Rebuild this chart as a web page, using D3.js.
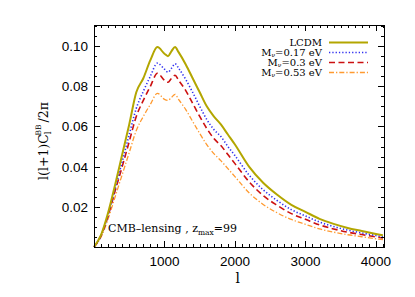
<!DOCTYPE html>
<html>
<head>
<meta charset="utf-8">
<script src="https://cdn.jsdelivr.net/npm/d3@7"></script>
<style>
  body { margin: 0; background: #fff; }
  svg { display: block; }
</style>
</head>
<body>
<svg id="chart"></svg>
<script>
// multipoles l
const ells = [0, 100, 200, 300, 400, 500, 600, 700, 800, 900, 1000, 1050, 1100, 1150, 1200,
  1300, 1400, 1500, 1600, 1700, 1800, 1900, 2000, 2200, 2400, 2600, 2800, 3000, 3200,
  3400, 3600, 3800, 4000, 4100];

const lcdm = [0, .006, .017, .031, .046, .061, .077, .084, .093, .0995, .0962, .095, .0975, .0995, .097,
  .091, .084, .077, .070, .065, .061, .056, .051, .040, .032, .026, .021, .0175, .014,
  .0115, .0095, .008, .0065, .0058];
const mnu017 = [0, .0057, .016, .029, .0425, .056, .069, .0775, .085, .0915, .0885, .087, .089, .0912, .089,
  .0835, .077, .070, .0635, .0585, .055, .050, .0455, .0358, .0285, .0231, .0186, .0155, .0124,
  .0102, .0084, .007, .0057, .0051];
const mnu03 = [0, .0055, .0155, .028, .040, .0525, .065, .073, .080, .0865, .083, .082, .084, .0855, .083,
  .078, .0715, .065, .059, .054, .0505, .046, .0415, .0325, .0256, .0207, .0166, .0138, .011,
  .009, .0074, .0062, .005, .0045];
const mnu053 = [0, .005, .014, .025, .036, .047, .058, .065, .071, .0765, .0735, .073, .0745, .076, .0735,
  .0685, .0625, .0565, .051, .0465, .043, .039, .035, .027, .0212, .017, .0137, .0113, .009,
  .0074, .0061, .0051, .0041, .0037];

const xTicks = [1000, 2000, 3000, 4000];
const yTicks = [0.02, 0.04, 0.06, 0.08, 0.10];

const series = [
  { name: "LCDM", mass: null, values: lcdm, color: "#b3a600", dash: null, width: 2 },
  { name: "M", mass: "0.17", values: mnu017, color: "#3030f0", dash: "1.3,2", width: 1.6 },
  { name: "M", mass: "0.3", values: mnu03, color: "#cc1010", dash: "6,3.5", width: 1.6 },
  { name: "M", mass: "0.53", values: mnu053, color: "#ff9a30", dash: "5,2,1.3,2", width: 1.3 }
];

const W = 415, H = 297;
const margin = { top: 25, right: 31, bottom: 50, left: 94 };
const width = W - margin.left - margin.right,
  height = H - margin.top - margin.bottom;

const svg = d3.select("#chart").attr("width", W).attr("height", H);
const g = svg.append("g").attr("transform", "translate(" + margin.left + "," + margin.top + ")");

const x = d3.scaleLinear().domain([0, 4115]).range([0, width]);
const y = d3.scaleLinear().domain([0, 0.1105]).range([height, 0]);

const serif = "'DejaVu Serif', 'Liberation Serif', serif";
const sans = "'Liberation Sans', Arial, sans-serif";

// curves
const line = d3.line()
  .x((d, i) => x(ells[i]))
  .y(d => y(d))
  .curve(d3.curveMonotoneX);

g.append("g")
  .selectAll("path")
  .data(series.slice().reverse())
  .join("path")
  .attr("d", d => line(d.values))
  .attr("fill", "none")
  .attr("stroke", d => d.color)
  .attr("stroke-width", d => d.width)
  .attr("stroke-dasharray", d => d.dash);

// IDL-style axes: ticks on all four sides, pointing inwards
const xMinor = d3.range(100, 4115, 100);
const yMinor = d3.range(0.005, 0.1105, 0.005);

function tickSet(vals, major) {
  return vals.map(v => ({ v: v, major: major.some(m => Math.abs(m - v) < 1e-6) }));
}
const xt = tickSet(xMinor, xTicks);
const yt = tickSet(yMinor, yTicks);

const ticks = g.append("g").attr("stroke", "#000").attr("stroke-width", 1);
xt.forEach(t => {
  const px = Math.round(x(t.v)) + 0.5, len = t.major ? 6 : 3;
  ticks.append("line").attr("x1", px).attr("x2", px).attr("y1", height).attr("y2", height - len);
  ticks.append("line").attr("x1", px).attr("x2", px).attr("y1", 0).attr("y2", len);
});
yt.forEach(t => {
  const py = Math.round(y(t.v)) + 0.5, len = t.major ? 6 : 3;
  ticks.append("line").attr("x1", 0).attr("x2", len).attr("y1", py).attr("y2", py);
  ticks.append("line").attr("x1", width).attr("x2", width - len).attr("y1", py).attr("y2", py);
});

g.append("rect")
  .attr("x", 0.5).attr("y", 0.5)
  .attr("width", width).attr("height", height)
  .attr("fill", "none").attr("stroke", "#000").attr("stroke-width", 1);

// tick labels
g.selectAll(".xl").data(xTicks).join("text")
  .attr("x", d => x(d)).attr("y", height + 19)
  .attr("text-anchor", "middle")
  .style("font-family", sans).style("font-size", "13.5px")
  .text(d => d);

g.selectAll(".yl").data(yTicks).join("text")
  .attr("x", -6).attr("y", d => y(d) + 5)
  .attr("text-anchor", "end")
  .style("font-family", sans).style("font-size", "13.5px")
  .text(d => d3.format(".2f")(d));

// axis titles
g.append("text")
  .attr("x", x(2040)).attr("y", height + 36)
  .attr("text-anchor", "middle")
  .style("font-family", serif).style("font-size", "14px")
  .text("l");

const yl = svg.append("text")
  .attr("transform", "translate(48,141) rotate(-90)")
  .attr("text-anchor", "middle")
  .style("font-family", serif).style("font-size", "12.5px");
yl.append("tspan").text("l(l+1)C");
yl.append("tspan").attr("dy", 3).style("font-size", "8.5px").text("l");
yl.append("tspan").attr("dx", -4).attr("dy", -10).style("font-size", "7.5px").text("BB");
yl.append("tspan").attr("dx", 2).attr("dy", 7).text("/2\u03c0");

// legend
const legend = g.append("g").attr("transform", "translate(" + (322 - margin.left) + ",0)");
series.forEach((s, i) => {
  const ly = 17.5 + i * 10;
  const t = legend.append("text")
    .attr("x", 0).attr("y", ly + 3.5)
    .attr("text-anchor", "end")
    .style("font-family", serif).style("font-size", "10px");
  if (s.mass === null) {
    t.text(s.name);
  } else {
    t.append("tspan").text("M");
    t.append("tspan").attr("dy", 1).style("font-size", "6px").text("\u03bd");
    t.append("tspan").attr("dy", -1).text("=" + s.mass + " eV");
  }
  legend.append("line")
    .attr("x1", 7).attr("x2", 46)
    .attr("y1", ly).attr("y2", ly)
    .attr("stroke", s.color)
    .attr("stroke-width", s.width)
    .attr("stroke-dasharray", s.dash);
});

// annotation
const note = g.append("text")
  .attr("x", 14).attr("y", height - 15)
  .style("font-family", serif).style("font-size", "11px");
note.append("tspan").text("CMB\u2013lensing  ,  z");
note.append("tspan").attr("dy", 2.5).style("font-size", "7.5px").text("max");
note.append("tspan").attr("dy", -2.5).text("=99");
</script>
</body>
</html>
